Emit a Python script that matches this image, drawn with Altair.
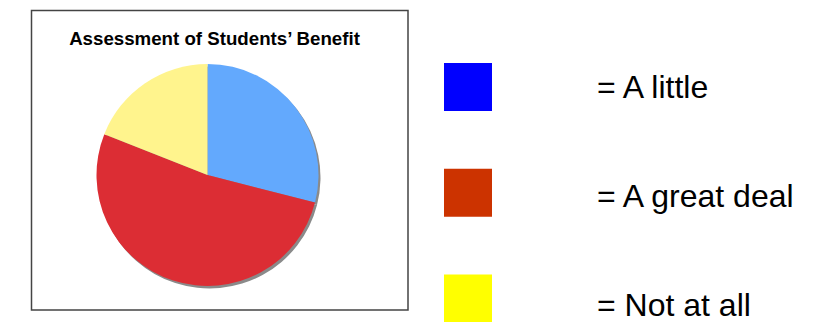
import altair as alt
import pandas as pd

# data
categories = ["A little", "A great deal", "Not at all"]
shares = [29, 52, 19]
slice_colors = ["#63A9FD", "#DC2D34", "#FFF48D"]
legend_colors = ["#0000FF", "#CC3300", "#FFFF00"]
legend_labels = ["= A little", "= A great deal", "= Not at all"]
title_text = ["Assessment of Students\u2019 Benefit"]

pie_df = pd.DataFrame({"cat": categories, "share": shares, "ord": list(range(len(categories)))})
leg_df = pd.DataFrame({"cat": categories, "label": legend_labels})
title_df = pd.DataFrame({"t": title_text})

CX, CY, R = 199.5, 167, 111

frame = alt.Chart(title_df).mark_rect(
    filled=False, stroke="#444444", strokeWidth=1.5
).encode(x=alt.value(23.5), x2=alt.value(400), y=alt.value(2.5), y2=alt.value(302))

title = alt.Chart(title_df).mark_text(
    font="Liberation Sans", fontWeight="bold", fontSize=18.7, color="#000000",
    align="center", baseline="alphabetic"
).encode(x=alt.value(206.5), y=alt.value(37), text="t:N")

shadow = alt.Chart(pie_df).mark_arc(radius=R, color="#8a8a8a").encode(
    theta=alt.Theta("share:Q", stack=True),
    order=alt.Order("ord:Q"),
    x=alt.value(CX + 2),
    y=alt.value(CY + 2.5),
)

pie = alt.Chart(pie_df).mark_arc(radius=R).encode(
    theta=alt.Theta("share:Q", stack=True),
    order=alt.Order("ord:Q"),
    color=alt.Color("cat:N", scale=alt.Scale(domain=categories, range=slice_colors), legend=None),
    x=alt.value(CX),
    y=alt.value(CY),
)

square_scale = alt.Scale(type="point", domain=categories, range=[79, 290.5], padding=0)
label_scale = alt.Scale(type="point", domain=categories, range=[90, 308], padding=0)

squares = alt.Chart(leg_df).mark_square(size=2304, opacity=1, strokeWidth=0).encode(
    y=alt.Y("cat:N", scale=square_scale, axis=None),
    x=alt.value(460),
    color=alt.Color("cat:N", scale=alt.Scale(domain=categories, range=legend_colors), legend=None),
)

labels = alt.Chart(leg_df).mark_text(
    font="Liberation Sans", fontSize=32, color="#000000", align="left",
    baseline="alphabetic"
).encode(
    y=alt.Y("cat:N", scale=label_scale, axis=None),
    x=alt.value(589),
    text="label:N",
)

chart = alt.layer(frame, title, shadow, pie, squares, labels).resolve_scale(
    color="independent", y="independent"
).properties(
    width=813, height=330, autosize=alt.AutoSizeParams(type="none"), padding=0
).configure_view(stroke=None)

chart.save("out.html", embed_options={"renderer": "svg", "actions": False})
